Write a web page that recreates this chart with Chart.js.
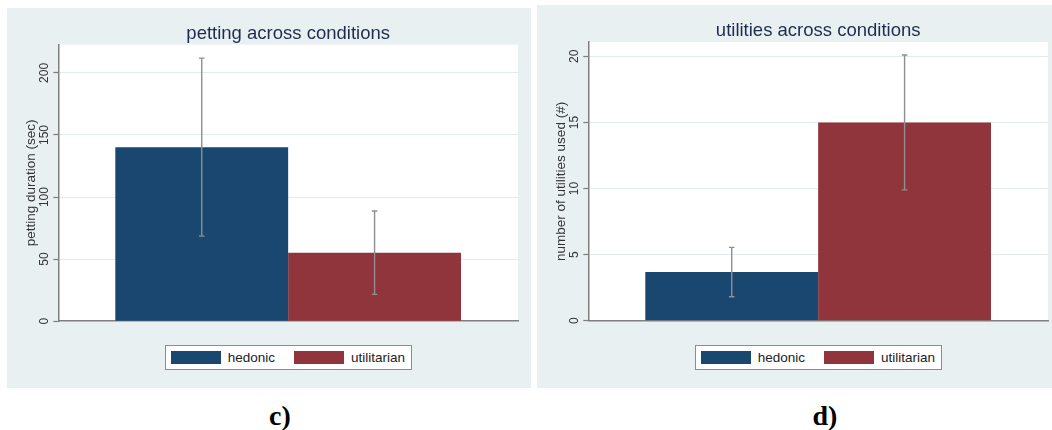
<!DOCTYPE html>
<html>
<head>
<meta charset="utf-8">
<script src="https://cdn.jsdelivr.net/npm/chart.js@4.4.1/dist/chart.umd.min.js"></script>
<style>
  html, body { margin: 0; padding: 0; background: #ffffff; overflow: hidden; width: 1052px; height: 430px; }
  body { position: relative; font-family: "Liberation Sans", Arial, sans-serif; }
  .panel { position: absolute; background: #e9f0f2; overflow: hidden; }
  .panel canvas { display: block; }
  .legend { position: absolute; top: 345px; height: 25px; box-sizing: border-box; border: 1px solid #8c8c8c;
            background: #ffffff; display: flex; align-items: center; padding: 0 6px 0 5px;
            font-size: 13.5px; color: #222222; white-space: nowrap; }
  .legend .item { display: flex; align-items: center; }
  .legend .item + .item { margin-left: 19px; }
  .legend .sw { width: 50px; height: 13px; margin-right: 7px; }
  .tag { position: absolute; top: 400px; width: 100px; text-align: center; line-height: 28px;
         font: bold 28px "Liberation Serif", "Times New Roman", serif; color: #000000; }
</style>
</head>
<body>
<div class="panel" id="panelC" style="left:7px; top:8px; width:524px; height:380px;"><canvas id="chartC" width="524" height="380"></canvas></div>
<div class="panel" id="panelD" style="left:537px; top:5px; width:515px; height:383px;"><canvas id="chartD" width="515" height="383"></canvas></div>
<div class="legend" id="legendC"></div>
<div class="legend" id="legendD"></div>
<div class="tag" style="left:230px;">c)</div>
<div class="tag" style="left:775px;">d)</div>

<script>
// Conditions and their colours
const conditions = ['hedonic', 'utilitarian'];
const conditionColors = ['#1a476f', '#90353b'];

// Petting duration (sec): means and error half-widths per condition
const pettingMeans = [140.2, 55.2];
const pettingErrors = [71.7, 33.6];
const pettingTicks = [0, 50, 100, 150, 200];

// Number of utilities used: means and error half-widths per condition
const utilityMeans = [3.68, 15.0];
const utilityErrors = [1.87, 5.1];
const utilityTicks = [0, 5, 10, 15, 20];

Chart.defaults.font.family = '"Liberation Sans", Arial, sans-serif';

// White plot region inside the tinted graph region
const plotRegion = {
  id: 'plotRegion',
  beforeDraw(chart) {
    const { ctx, chartArea: a } = chart;
    ctx.save();
    ctx.fillStyle = '#e9f0f2';
    ctx.fillRect(0, 0, chart.width, chart.height);
    ctx.fillStyle = '#ffffff';
    ctx.fillRect(a.left, a.top, a.right - a.left, a.bottom - a.top);
    ctx.restore();
  }
};

// Capped error bars centred on each bar
const errorBars = {
  id: 'errorBars',
  afterDatasetsDraw(chart) {
    const { ctx } = chart;
    const y = chart.scales.y;
    ctx.save();
    ctx.strokeStyle = '#8f8f8f';
    ctx.lineWidth = 1.4;
    chart.data.datasets.forEach((ds, i) => {
      const bar = chart.getDatasetMeta(i).data[0];
      const v = ds.data[0], e = ds.errors[0];
      const top = y.getPixelForValue(v + e);
      const bot = y.getPixelForValue(v - e);
      const x = bar.x;
      ctx.beginPath();
      ctx.moveTo(x, top); ctx.lineTo(x, bot);
      ctx.moveTo(x - 2.8, top); ctx.lineTo(x + 2.8, top);
      ctx.moveTo(x - 2.8, bot); ctx.lineTo(x + 2.8, bot);
      ctx.stroke();
    });
    ctx.restore();
  }
};

function buildChart(canvasId, cfg) {
  const datasets = conditions.map((name, i) => ({
    label: name,
    data: [cfg.means[i]],
    errors: [cfg.errors[i]],
    backgroundColor: conditionColors[i],
    borderWidth: 0,
    categoryPercentage: 0.752,
    barPercentage: 1.0
  }));
  return new Chart(document.getElementById(canvasId), {
    type: 'bar',
    data: { labels: [''], datasets },
    options: {
      responsive: false,
      animation: false,
      devicePixelRatio: 1,
      layout: { padding: { left: 0, right: cfg.rightPad, top: 0, bottom: 0 } },
      plugins: {
        legend: { display: false },
        tooltip: { enabled: false },
        title: {
          display: true,
          text: cfg.title,
          fullSize: false,
          color: '#1f2d4d',
          font: { size: 18.5, weight: 'normal', lineHeight: 1.2 },
          padding: { top: cfg.titleTop, bottom: 0 }
        }
      },
      scales: {
        x: {
          grid: { display: false },
          ticks: { display: false },
          border: { color: '#7f7f7f', width: 1.5 },
          afterFit: s => { s.height = cfg.xHeight; }
        },
        y: {
          min: 0,
          max: cfg.yMax,
          afterBuildTicks: s => { s.ticks = cfg.ticks.map(v => ({ value: v })); },
          afterFit: s => { s.width = 51.3; },
          border: { color: '#7f7f7f', width: 1.5 },
          grid: {
            color: c => (c.tick && c.tick.value === 0) ? 'rgba(0,0,0,0)' : '#e3ebee',
            lineWidth: 1,
            tickLength: 5,
            tickColor: '#7f7f7f',
            tickWidth: 1.2
          },
          ticks: {
            minRotation: 90,
            maxRotation: 90,
            crossAlign: 'center',
            padding: cfg.tickPad,
            color: '#333333',
            font: { size: 12 }
          },
          title: {
            display: true,
            text: cfg.yTitle,
            color: '#333333',
            font: { size: 13.5, lineHeight: 1.2 },
            padding: { top: 15.9, bottom: 0 }
          }
        }
      }
    },
    plugins: [plotRegion, errorBars]
  });
}

function buildLegend(chart, legendId, panelLeft) {
  const box = document.getElementById(legendId);
  const items = Chart.defaults.plugins.legend.labels.generateLabels(chart);
  items.forEach(it => {
    const item = document.createElement('div');
    item.className = 'item';
    const sw = document.createElement('span');
    sw.className = 'sw';
    sw.style.background = it.fillStyle;
    const txt = document.createElement('span');
    txt.textContent = it.text;
    item.appendChild(sw);
    item.appendChild(txt);
    box.appendChild(item);
  });
  const a = chart.chartArea;
  const centre = panelLeft + (a.left + a.right) / 2;
  box.style.left = (centre - box.offsetWidth / 2) + 'px';
}

const chartC = buildChart('chartC', {
  title: 'petting across conditions',
  yTitle: 'petting duration (sec)',
  means: pettingMeans,
  errors: pettingErrors,
  ticks: pettingTicks,
  yMax: 222.7,
  rightPad: 13,
  titleTop: 14.5,
  xHeight: 66.8,
  tickPad: -1.7,
});

const chartD = buildChart('chartD', {
  title: 'utilities across conditions',
  yTitle: 'number of utilities used (#)',
  means: utilityMeans,
  errors: utilityErrors,
  ticks: utilityTicks,
  yMax: 21.08,
  rightPad: 4,
  titleTop: 14.9,
  xHeight: 67.3,
  tickPad: 1.6
});

buildLegend(chartC, 'legendC', 7);
buildLegend(chartD, 'legendD', 537);
</script>
</body>
</html>
